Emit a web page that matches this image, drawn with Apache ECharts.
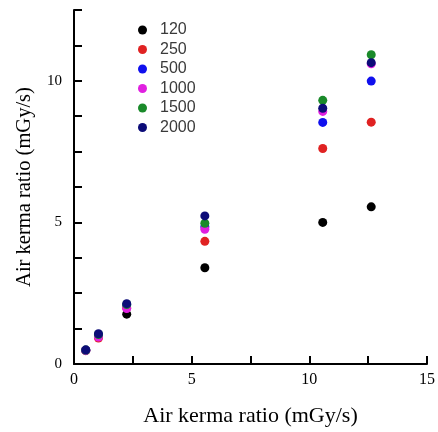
<!DOCTYPE html>
<html>
<head>
<meta charset="utf-8">
<script src="https://cdn.jsdelivr.net/npm/echarts@6/dist/echarts.min.js"></script>
<style>html,body{margin:0;padding:0;background:#fff;}#c{width:438px;height:432px;}</style>
</head>
<body>
<div id="c"></div>
<script>
var seriesNames = ['120', '250', '500', '1000', '1500', '2000'];
var xValues = [0.5, 1.04, 2.24, 5.56, 10.57, 12.63];
var s120  = [0.48, 1.00, 1.76, 3.40, 5.00, 5.55];
var s250  = [0.47, 0.92, 1.98, 4.33, 7.61, 8.54];
var s500  = [0.48, 1.02, 2.08, 4.85, 8.53, 9.99];
var s1000 = [0.48, 0.95, 1.96, 4.76, 8.92, 10.60];
var s1500 = [0.49, 1.04, 2.10, 4.97, 9.31, 10.92];
var s2000 = [0.50, 1.07, 2.13, 5.23, 9.03, 10.64];
var xTickLabels = [0, 5, 10, 15];
var yTickLabels = [0, 5, 10];
var colors = ['#000000', '#e02222', '#1010ee', '#e020e0', '#1a8a2a', '#0c0c78'];

var allY = [s120, s250, s500, s1000, s1500, s2000];
var series = seriesNames.map(function (n, i) {
  return {
    name: n,
    type: 'scatter',
    symbol: 'circle',
    symbolSize: 9,
    itemStyle: { color: colors[i], opacity: 1 },
    data: xValues.map(function (x, j) { return [x, allY[i][j]]; })
  };
});

var chart = echarts.init(document.getElementById('c'), null, { renderer: 'canvas' });
chart.setOption({
  backgroundColor: '#ffffff',
  animation: false,
  grid: { left: 74, right: 10, top: 10, bottom: 60 },
  legend: {
    orient: 'vertical',
    left: 133,
    top: 17,
    itemWidth: 9,
    itemHeight: 9,
    itemGap: 3.5,
    icon: 'circle',
    textStyle: { fontFamily: 'Liberation Sans', fontSize: 16, color: '#3a3a3a', lineHeight: 16, padding: [0, 0, 0, 8] },
    data: seriesNames
  },
  xAxis: {
    type: 'value', min: 0, max: 15, interval: 2.5,
    name: 'Air kerma ratio (mGy/s)', nameLocation: 'middle', nameGap: 41,
    nameTextStyle: { fontFamily: 'Liberation Serif', fontSize: 22, color: '#000' },
    axisLine: { show: true, onZero: false, lineStyle: { color: '#000', width: 2 } },
    axisTick: { show: true, inside: true, length: 8, lineStyle: { color: '#000', width: 2 } },
    axisLabel: {
      margin: 8, fontFamily: 'Liberation Serif', fontSize: 16, color: '#000',
      formatter: function (v) { return xTickLabels.indexOf(v) >= 0 ? String(v) : ''; }
    },
    splitLine: { show: false }
  },
  yAxis: {
    type: 'value', min: 0, max: 12.5, interval: 1.25,
    name: 'Air kerma ratio (mGy/s)', nameLocation: 'middle', nameGap: 39,
    nameTextStyle: { fontFamily: 'Liberation Serif', fontSize: 20.5, color: '#000' },
    axisLine: { show: true, onZero: false, lineStyle: { color: '#000', width: 2 } },
    axisTick: { show: true, inside: true, length: 8, lineStyle: { color: '#000', width: 2 } },
    axisLabel: {
      margin: 12, fontFamily: 'Liberation Serif', fontSize: 15, color: '#000',
      formatter: function (v) { return yTickLabels.indexOf(v) >= 0 ? String(v) : ''; }
    },
    splitLine: { show: false }
  },
  series: series
});
</script>
</body>
</html>
